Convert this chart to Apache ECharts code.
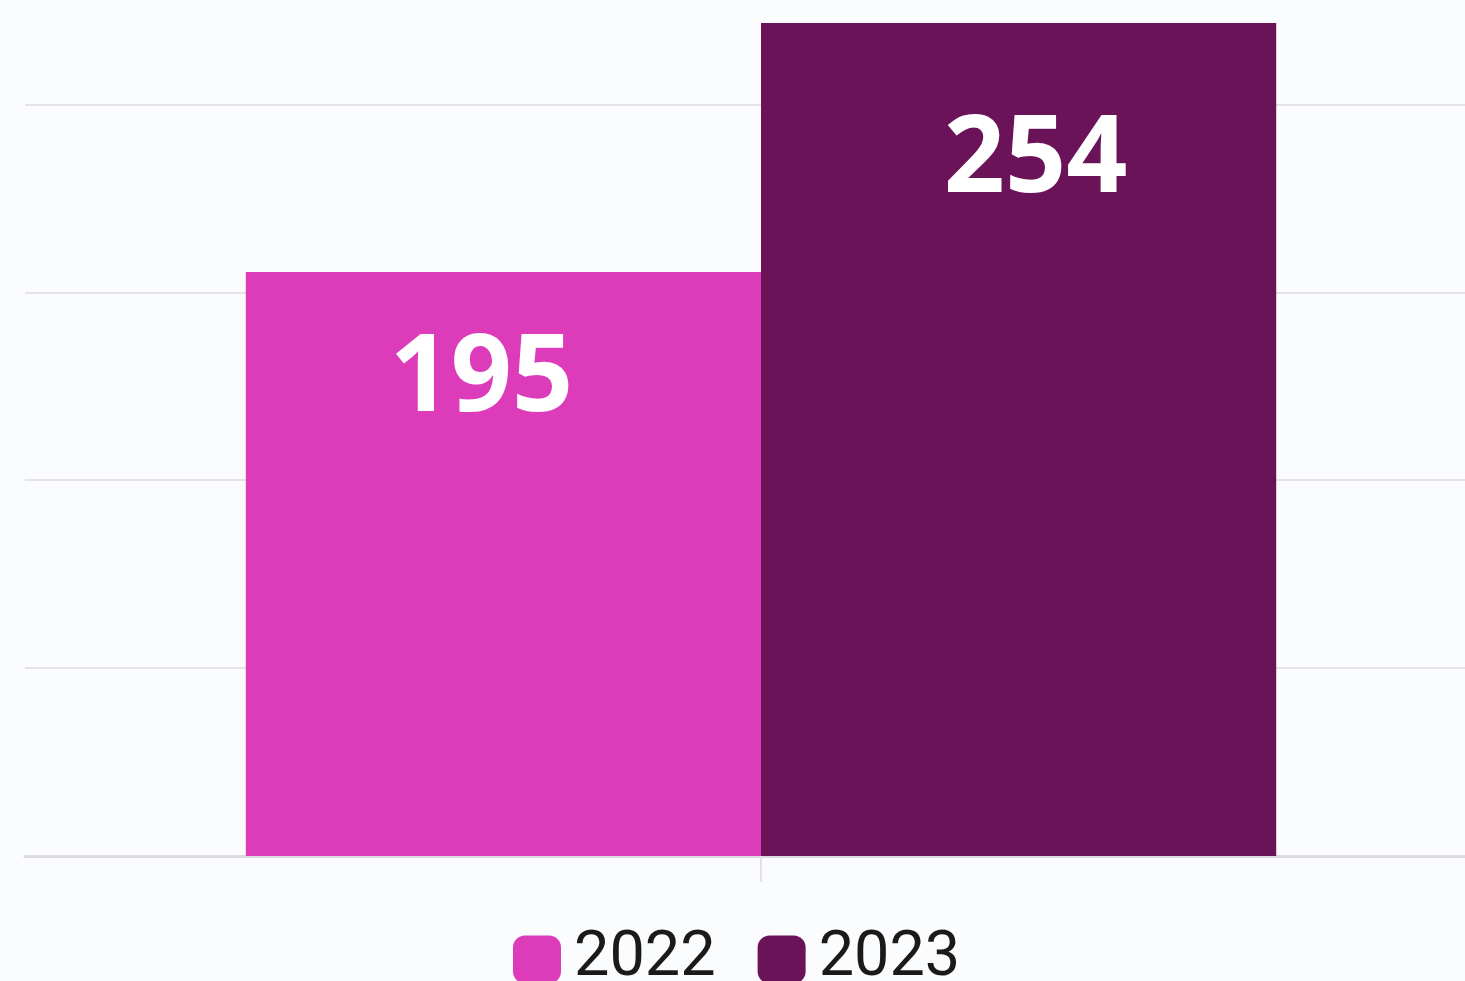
<!DOCTYPE html>
<html>
<head>
<meta charset="utf-8">
<script src="https://cdn.jsdelivr.net/npm/echarts@6/dist/echarts.min.js"></script>
<style>
    html, body { margin: 0; padding: 0; background: #fbfcfe; }
    #chart { width: 1465px; height: 981px; }
</style>
</head>
<body>
<div id="chart"></div>
<script>
// 数据
const categories = ['']
const seriesNames = ['2022', '2023']
const values2022 = [195]
const values2023 = [254]

const colors = ['#dc3cba', '#6b1359']

const chart = echarts.init(document.getElementById('chart'))

// 柱子底部不是 0，按图上像素位置反推的范围
const barMin = 56.62
const barMax = 264.19

const labelStyle = (distance, dx) => ({
    show: true,
    position: 'insideTop',
    distance: distance,
    offset: [dx, 0],
    color: '#ffffff',
    fontFamily: 'Open Sans',
    fontWeight: 'bold',
    fontSize: 107,
})

const option = {
    backgroundColor: '#fbfcfe',
    animation: false,
    legend: {
        data: seriesNames,
        left: 508,
        top: 923,
        itemWidth: 48,
        itemHeight: 48,
        itemGap: 42,
        icon: 'roundRect',
        textStyle: {
            fontFamily: 'Roboto',
            fontSize: 63,
            color: '#1a1a1a',
            padding: [0, 0, 0, 8],
        },
    },
    grid: {
        left: 25,
        right: -32,
        top: -20,
        bottom: 125,
        outerBoundsMode: 'none',
    },
    xAxis: {
        type: 'category',
        data: categories,
        axisLine: { lineStyle: { color: '#dcdcdf', width: 3 } },
        axisTick: {
            show: true,
            interval: 0,
            alignWithLabel: true,
            length: 26,
            lineStyle: { color: '#e2e2e5', width: 2 },
        },
        axisLabel: { show: true, interval: 0 },
    },
    yAxis: [
        {
            type: 'value',
            min: barMin,
            max: barMax,
            axisLine: { show: false },
            axisTick: { show: false },
            axisLabel: { show: false },
            splitLine: { show: false },
        },
        {
            // 仅用于网格线
            type: 'value',
            position: 'left',
            min: 0,
            max: 4.662,
            interval: 1,
            axisLine: { show: false },
            axisTick: { show: false },
            axisLabel: { show: false },
            splitLine: { lineStyle: { color: '#e4e4e7', width: 2 } },
        },
    ],
    series: [
        {
            name: seriesNames[0],
            type: 'bar',
            yAxisIndex: 0,
            data: values2022,
            barGap: 0,
            barCategoryGap: '30%',
            itemStyle: { color: colors[0] },
            label: labelStyle(55, -22),
        },
        {
            name: seriesNames[1],
            type: 'bar',
            yAxisIndex: 0,
            data: values2023,
            barGap: 0,
            barCategoryGap: '30%',
            itemStyle: { color: colors[1] },
            label: labelStyle(85, 17),
        },
    ],
}

chart.setOption(option)
</script>
</body>
</html>
